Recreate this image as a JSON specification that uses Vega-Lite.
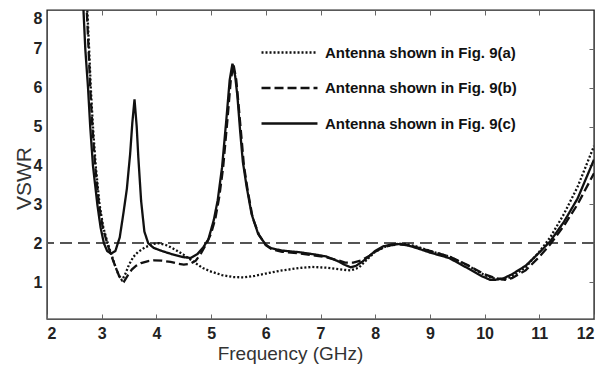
{
  "$schema": "https://vega.github.io/schema/vega-lite/v6.json",
  "width": 547,
  "height": 309,
  "autosize": "none",
  "padding": {"left": 47, "top": 10, "right": 14, "bottom": 51},
  "config": {
    "view": {"stroke": "#222", "strokeWidth": 1.4},
    "font": "Liberation Sans",
    "axis": {"grid": false, "domain": false, "labelFont": "Liberation Sans", "labelFontWeight": "bold", "labelFontSize": 16, "labelColor": "#222", "tickColor": "#666", "tickWidth": 1, "titleFont": "Liberation Sans", "titleFontWeight": "normal", "titleColor": "#333"}
  },
  "data": {"values": [
    {"f": 2.71, "v": 8.6, "s": "Antenna shown in Fig. 9(a)"},
    {"f": 2.74, "v": 7.9, "s": "Antenna shown in Fig. 9(a)"},
    {"f": 2.77, "v": 7.0, "s": "Antenna shown in Fig. 9(a)"},
    {"f": 2.80, "v": 6.0, "s": "Antenna shown in Fig. 9(a)"},
    {"f": 2.84, "v": 5.0, "s": "Antenna shown in Fig. 9(a)"},
    {"f": 2.89, "v": 4.0, "s": "Antenna shown in Fig. 9(a)"},
    {"f": 2.96, "v": 3.0, "s": "Antenna shown in Fig. 9(a)"},
    {"f": 3.03, "v": 2.4, "s": "Antenna shown in Fig. 9(a)"},
    {"f": 3.11, "v": 2.0, "s": "Antenna shown in Fig. 9(a)"},
    {"f": 3.18, "v": 1.7, "s": "Antenna shown in Fig. 9(a)"},
    {"f": 3.25, "v": 1.4, "s": "Antenna shown in Fig. 9(a)"},
    {"f": 3.31, "v": 1.18, "s": "Antenna shown in Fig. 9(a)"},
    {"f": 3.37, "v": 1.05, "s": "Antenna shown in Fig. 9(a)"},
    {"f": 3.43, "v": 1.2, "s": "Antenna shown in Fig. 9(a)"},
    {"f": 3.50, "v": 1.45, "s": "Antenna shown in Fig. 9(a)"},
    {"f": 3.58, "v": 1.65, "s": "Antenna shown in Fig. 9(a)"},
    {"f": 3.66, "v": 1.77, "s": "Antenna shown in Fig. 9(a)"},
    {"f": 3.80, "v": 1.9, "s": "Antenna shown in Fig. 9(a)"},
    {"f": 3.95, "v": 1.98, "s": "Antenna shown in Fig. 9(a)"},
    {"f": 4.05, "v": 2.0, "s": "Antenna shown in Fig. 9(a)"},
    {"f": 4.2, "v": 1.94, "s": "Antenna shown in Fig. 9(a)"},
    {"f": 4.35, "v": 1.83, "s": "Antenna shown in Fig. 9(a)"},
    {"f": 4.5, "v": 1.7, "s": "Antenna shown in Fig. 9(a)"},
    {"f": 4.7, "v": 1.5, "s": "Antenna shown in Fig. 9(a)"},
    {"f": 4.85, "v": 1.36, "s": "Antenna shown in Fig. 9(a)"},
    {"f": 5.0, "v": 1.27, "s": "Antenna shown in Fig. 9(a)"},
    {"f": 5.2, "v": 1.18, "s": "Antenna shown in Fig. 9(a)"},
    {"f": 5.4, "v": 1.13, "s": "Antenna shown in Fig. 9(a)"},
    {"f": 5.6, "v": 1.12, "s": "Antenna shown in Fig. 9(a)"},
    {"f": 5.8, "v": 1.16, "s": "Antenna shown in Fig. 9(a)"},
    {"f": 6.0, "v": 1.22, "s": "Antenna shown in Fig. 9(a)"},
    {"f": 6.3, "v": 1.3, "s": "Antenna shown in Fig. 9(a)"},
    {"f": 6.6, "v": 1.36, "s": "Antenna shown in Fig. 9(a)"},
    {"f": 6.85, "v": 1.39, "s": "Antenna shown in Fig. 9(a)"},
    {"f": 7.1, "v": 1.37, "s": "Antenna shown in Fig. 9(a)"},
    {"f": 7.4, "v": 1.32, "s": "Antenna shown in Fig. 9(a)"},
    {"f": 7.55, "v": 1.3, "s": "Antenna shown in Fig. 9(a)"},
    {"f": 7.7, "v": 1.37, "s": "Antenna shown in Fig. 9(a)"},
    {"f": 7.85, "v": 1.58, "s": "Antenna shown in Fig. 9(a)"},
    {"f": 8.0, "v": 1.78, "s": "Antenna shown in Fig. 9(a)"},
    {"f": 8.2, "v": 1.92, "s": "Antenna shown in Fig. 9(a)"},
    {"f": 8.4, "v": 1.98, "s": "Antenna shown in Fig. 9(a)"},
    {"f": 8.55, "v": 1.98, "s": "Antenna shown in Fig. 9(a)"},
    {"f": 8.75, "v": 1.92, "s": "Antenna shown in Fig. 9(a)"},
    {"f": 9.0, "v": 1.8, "s": "Antenna shown in Fig. 9(a)"},
    {"f": 9.35, "v": 1.66, "s": "Antenna shown in Fig. 9(a)"},
    {"f": 9.7, "v": 1.42, "s": "Antenna shown in Fig. 9(a)"},
    {"f": 10.0, "v": 1.18, "s": "Antenna shown in Fig. 9(a)"},
    {"f": 10.2, "v": 1.08, "s": "Antenna shown in Fig. 9(a)"},
    {"f": 10.35, "v": 1.07, "s": "Antenna shown in Fig. 9(a)"},
    {"f": 10.5, "v": 1.14, "s": "Antenna shown in Fig. 9(a)"},
    {"f": 10.75, "v": 1.38, "s": "Antenna shown in Fig. 9(a)"},
    {"f": 11.0, "v": 1.78, "s": "Antenna shown in Fig. 9(a)"},
    {"f": 11.2, "v": 2.15, "s": "Antenna shown in Fig. 9(a)"},
    {"f": 11.45, "v": 2.75, "s": "Antenna shown in Fig. 9(a)"},
    {"f": 11.7, "v": 3.45, "s": "Antenna shown in Fig. 9(a)"},
    {"f": 12.0, "v": 4.5, "s": "Antenna shown in Fig. 9(a)"},

    {"f": 2.70, "v": 8.6, "s": "Antenna shown in Fig. 9(b)"},
    {"f": 2.73, "v": 7.9, "s": "Antenna shown in Fig. 9(b)"},
    {"f": 2.76, "v": 7.0, "s": "Antenna shown in Fig. 9(b)"},
    {"f": 2.79, "v": 6.0, "s": "Antenna shown in Fig. 9(b)"},
    {"f": 2.83, "v": 5.0, "s": "Antenna shown in Fig. 9(b)"},
    {"f": 2.88, "v": 4.0, "s": "Antenna shown in Fig. 9(b)"},
    {"f": 2.95, "v": 3.0, "s": "Antenna shown in Fig. 9(b)"},
    {"f": 3.02, "v": 2.4, "s": "Antenna shown in Fig. 9(b)"},
    {"f": 3.10, "v": 2.0, "s": "Antenna shown in Fig. 9(b)"},
    {"f": 3.17, "v": 1.7, "s": "Antenna shown in Fig. 9(b)"},
    {"f": 3.25, "v": 1.4, "s": "Antenna shown in Fig. 9(b)"},
    {"f": 3.32, "v": 1.15, "s": "Antenna shown in Fig. 9(b)"},
    {"f": 3.41, "v": 1.02, "s": "Antenna shown in Fig. 9(b)"},
    {"f": 3.48, "v": 1.18, "s": "Antenna shown in Fig. 9(b)"},
    {"f": 3.55, "v": 1.32, "s": "Antenna shown in Fig. 9(b)"},
    {"f": 3.63, "v": 1.42, "s": "Antenna shown in Fig. 9(b)"},
    {"f": 3.72, "v": 1.49, "s": "Antenna shown in Fig. 9(b)"},
    {"f": 3.85, "v": 1.54, "s": "Antenna shown in Fig. 9(b)"},
    {"f": 3.96, "v": 1.56, "s": "Antenna shown in Fig. 9(b)"},
    {"f": 4.1, "v": 1.55, "s": "Antenna shown in Fig. 9(b)"},
    {"f": 4.26, "v": 1.52, "s": "Antenna shown in Fig. 9(b)"},
    {"f": 4.4, "v": 1.47, "s": "Antenna shown in Fig. 9(b)"},
    {"f": 4.5, "v": 1.45, "s": "Antenna shown in Fig. 9(b)"},
    {"f": 4.62, "v": 1.47, "s": "Antenna shown in Fig. 9(b)"},
    {"f": 4.72, "v": 1.55, "s": "Antenna shown in Fig. 9(b)"},
    {"f": 4.82, "v": 1.75, "s": "Antenna shown in Fig. 9(b)"},
    {"f": 4.92, "v": 2.0, "s": "Antenna shown in Fig. 9(b)"},
    {"f": 5.0, "v": 2.25, "s": "Antenna shown in Fig. 9(b)"},
    {"f": 5.08, "v": 2.65, "s": "Antenna shown in Fig. 9(b)"},
    {"f": 5.15, "v": 3.2, "s": "Antenna shown in Fig. 9(b)"},
    {"f": 5.22, "v": 3.95, "s": "Antenna shown in Fig. 9(b)"},
    {"f": 5.30, "v": 5.2, "s": "Antenna shown in Fig. 9(b)"},
    {"f": 5.36, "v": 6.2, "s": "Antenna shown in Fig. 9(b)"},
    {"f": 5.41, "v": 6.6, "s": "Antenna shown in Fig. 9(b)"},
    {"f": 5.46, "v": 6.2, "s": "Antenna shown in Fig. 9(b)"},
    {"f": 5.50, "v": 5.6, "s": "Antenna shown in Fig. 9(b)"},
    {"f": 5.55, "v": 4.8, "s": "Antenna shown in Fig. 9(b)"},
    {"f": 5.60, "v": 4.0, "s": "Antenna shown in Fig. 9(b)"},
    {"f": 5.67, "v": 3.35, "s": "Antenna shown in Fig. 9(b)"},
    {"f": 5.76, "v": 2.65, "s": "Antenna shown in Fig. 9(b)"},
    {"f": 5.88, "v": 2.2, "s": "Antenna shown in Fig. 9(b)"},
    {"f": 6.0, "v": 1.95, "s": "Antenna shown in Fig. 9(b)"},
    {"f": 6.1, "v": 1.85, "s": "Antenna shown in Fig. 9(b)"},
    {"f": 6.3, "v": 1.78, "s": "Antenna shown in Fig. 9(b)"},
    {"f": 6.6, "v": 1.74, "s": "Antenna shown in Fig. 9(b)"},
    {"f": 6.9, "v": 1.68, "s": "Antenna shown in Fig. 9(b)"},
    {"f": 7.1, "v": 1.64, "s": "Antenna shown in Fig. 9(b)"},
    {"f": 7.3, "v": 1.57, "s": "Antenna shown in Fig. 9(b)"},
    {"f": 7.45, "v": 1.5, "s": "Antenna shown in Fig. 9(b)"},
    {"f": 7.6, "v": 1.5, "s": "Antenna shown in Fig. 9(b)"},
    {"f": 7.75, "v": 1.56, "s": "Antenna shown in Fig. 9(b)"},
    {"f": 7.9, "v": 1.68, "s": "Antenna shown in Fig. 9(b)"},
    {"f": 8.0, "v": 1.78, "s": "Antenna shown in Fig. 9(b)"},
    {"f": 8.15, "v": 1.9, "s": "Antenna shown in Fig. 9(b)"},
    {"f": 8.3, "v": 1.95, "s": "Antenna shown in Fig. 9(b)"},
    {"f": 8.45, "v": 1.97, "s": "Antenna shown in Fig. 9(b)"},
    {"f": 8.6, "v": 1.95, "s": "Antenna shown in Fig. 9(b)"},
    {"f": 8.75, "v": 1.9, "s": "Antenna shown in Fig. 9(b)"},
    {"f": 9.0, "v": 1.8, "s": "Antenna shown in Fig. 9(b)"},
    {"f": 9.35, "v": 1.66, "s": "Antenna shown in Fig. 9(b)"},
    {"f": 9.7, "v": 1.43, "s": "Antenna shown in Fig. 9(b)"},
    {"f": 10.0, "v": 1.2, "s": "Antenna shown in Fig. 9(b)"},
    {"f": 10.2, "v": 1.1, "s": "Antenna shown in Fig. 9(b)"},
    {"f": 10.37, "v": 1.06, "s": "Antenna shown in Fig. 9(b)"},
    {"f": 10.5, "v": 1.1, "s": "Antenna shown in Fig. 9(b)"},
    {"f": 10.75, "v": 1.3, "s": "Antenna shown in Fig. 9(b)"},
    {"f": 11.0, "v": 1.65, "s": "Antenna shown in Fig. 9(b)"},
    {"f": 11.2, "v": 1.97, "s": "Antenna shown in Fig. 9(b)"},
    {"f": 11.45, "v": 2.45, "s": "Antenna shown in Fig. 9(b)"},
    {"f": 11.7, "v": 3.0, "s": "Antenna shown in Fig. 9(b)"},
    {"f": 12.0, "v": 3.8, "s": "Antenna shown in Fig. 9(b)"},

    {"f": 2.65, "v": 8.6, "s": "Antenna shown in Fig. 9(c)"},
    {"f": 2.67, "v": 7.9, "s": "Antenna shown in Fig. 9(c)"},
    {"f": 2.70, "v": 7.0, "s": "Antenna shown in Fig. 9(c)"},
    {"f": 2.75, "v": 6.0, "s": "Antenna shown in Fig. 9(c)"},
    {"f": 2.79, "v": 5.0, "s": "Antenna shown in Fig. 9(c)"},
    {"f": 2.84, "v": 4.0, "s": "Antenna shown in Fig. 9(c)"},
    {"f": 2.92, "v": 3.0, "s": "Antenna shown in Fig. 9(c)"},
    {"f": 2.98, "v": 2.4, "s": "Antenna shown in Fig. 9(c)"},
    {"f": 3.04, "v": 2.0, "s": "Antenna shown in Fig. 9(c)"},
    {"f": 3.10, "v": 1.8, "s": "Antenna shown in Fig. 9(c)"},
    {"f": 3.17, "v": 1.73, "s": "Antenna shown in Fig. 9(c)"},
    {"f": 3.25, "v": 1.8, "s": "Antenna shown in Fig. 9(c)"},
    {"f": 3.33, "v": 2.15, "s": "Antenna shown in Fig. 9(c)"},
    {"f": 3.40, "v": 2.8, "s": "Antenna shown in Fig. 9(c)"},
    {"f": 3.46, "v": 3.4, "s": "Antenna shown in Fig. 9(c)"},
    {"f": 3.52, "v": 4.3, "s": "Antenna shown in Fig. 9(c)"},
    {"f": 3.56, "v": 5.1, "s": "Antenna shown in Fig. 9(c)"},
    {"f": 3.60, "v": 5.7, "s": "Antenna shown in Fig. 9(c)"},
    {"f": 3.64, "v": 5.0, "s": "Antenna shown in Fig. 9(c)"},
    {"f": 3.67, "v": 4.2, "s": "Antenna shown in Fig. 9(c)"},
    {"f": 3.72, "v": 3.1, "s": "Antenna shown in Fig. 9(c)"},
    {"f": 3.78, "v": 2.3, "s": "Antenna shown in Fig. 9(c)"},
    {"f": 3.85, "v": 2.0, "s": "Antenna shown in Fig. 9(c)"},
    {"f": 3.95, "v": 1.88, "s": "Antenna shown in Fig. 9(c)"},
    {"f": 4.10, "v": 1.8, "s": "Antenna shown in Fig. 9(c)"},
    {"f": 4.30, "v": 1.71, "s": "Antenna shown in Fig. 9(c)"},
    {"f": 4.50, "v": 1.64, "s": "Antenna shown in Fig. 9(c)"},
    {"f": 4.63, "v": 1.62, "s": "Antenna shown in Fig. 9(c)"},
    {"f": 4.75, "v": 1.72, "s": "Antenna shown in Fig. 9(c)"},
    {"f": 4.85, "v": 1.88, "s": "Antenna shown in Fig. 9(c)"},
    {"f": 4.95, "v": 2.1, "s": "Antenna shown in Fig. 9(c)"},
    {"f": 5.05, "v": 2.6, "s": "Antenna shown in Fig. 9(c)"},
    {"f": 5.12, "v": 3.1, "s": "Antenna shown in Fig. 9(c)"},
    {"f": 5.20, "v": 3.95, "s": "Antenna shown in Fig. 9(c)"},
    {"f": 5.28, "v": 5.2, "s": "Antenna shown in Fig. 9(c)"},
    {"f": 5.34, "v": 6.2, "s": "Antenna shown in Fig. 9(c)"},
    {"f": 5.39, "v": 6.62, "s": "Antenna shown in Fig. 9(c)"},
    {"f": 5.44, "v": 6.3, "s": "Antenna shown in Fig. 9(c)"},
    {"f": 5.48, "v": 5.8, "s": "Antenna shown in Fig. 9(c)"},
    {"f": 5.53, "v": 4.9, "s": "Antenna shown in Fig. 9(c)"},
    {"f": 5.58, "v": 4.1, "s": "Antenna shown in Fig. 9(c)"},
    {"f": 5.65, "v": 3.45, "s": "Antenna shown in Fig. 9(c)"},
    {"f": 5.74, "v": 2.75, "s": "Antenna shown in Fig. 9(c)"},
    {"f": 5.86, "v": 2.24, "s": "Antenna shown in Fig. 9(c)"},
    {"f": 6.0, "v": 1.96, "s": "Antenna shown in Fig. 9(c)"},
    {"f": 6.1, "v": 1.87, "s": "Antenna shown in Fig. 9(c)"},
    {"f": 6.3, "v": 1.81, "s": "Antenna shown in Fig. 9(c)"},
    {"f": 6.6, "v": 1.77, "s": "Antenna shown in Fig. 9(c)"},
    {"f": 6.9, "v": 1.71, "s": "Antenna shown in Fig. 9(c)"},
    {"f": 7.1, "v": 1.66, "s": "Antenna shown in Fig. 9(c)"},
    {"f": 7.3, "v": 1.55, "s": "Antenna shown in Fig. 9(c)"},
    {"f": 7.45, "v": 1.44, "s": "Antenna shown in Fig. 9(c)"},
    {"f": 7.55, "v": 1.38, "s": "Antenna shown in Fig. 9(c)"},
    {"f": 7.65, "v": 1.42, "s": "Antenna shown in Fig. 9(c)"},
    {"f": 7.77, "v": 1.53, "s": "Antenna shown in Fig. 9(c)"},
    {"f": 7.9, "v": 1.68, "s": "Antenna shown in Fig. 9(c)"},
    {"f": 8.0, "v": 1.8, "s": "Antenna shown in Fig. 9(c)"},
    {"f": 8.15, "v": 1.92, "s": "Antenna shown in Fig. 9(c)"},
    {"f": 8.3, "v": 1.97, "s": "Antenna shown in Fig. 9(c)"},
    {"f": 8.45, "v": 1.98, "s": "Antenna shown in Fig. 9(c)"},
    {"f": 8.6, "v": 1.94, "s": "Antenna shown in Fig. 9(c)"},
    {"f": 8.75, "v": 1.88, "s": "Antenna shown in Fig. 9(c)"},
    {"f": 9.0, "v": 1.76, "s": "Antenna shown in Fig. 9(c)"},
    {"f": 9.35, "v": 1.62, "s": "Antenna shown in Fig. 9(c)"},
    {"f": 9.7, "v": 1.35, "s": "Antenna shown in Fig. 9(c)"},
    {"f": 9.95, "v": 1.15, "s": "Antenna shown in Fig. 9(c)"},
    {"f": 10.1, "v": 1.06, "s": "Antenna shown in Fig. 9(c)"},
    {"f": 10.2, "v": 1.06, "s": "Antenna shown in Fig. 9(c)"},
    {"f": 10.35, "v": 1.1, "s": "Antenna shown in Fig. 9(c)"},
    {"f": 10.5, "v": 1.2, "s": "Antenna shown in Fig. 9(c)"},
    {"f": 10.75, "v": 1.42, "s": "Antenna shown in Fig. 9(c)"},
    {"f": 11.0, "v": 1.76, "s": "Antenna shown in Fig. 9(c)"},
    {"f": 11.2, "v": 2.05, "s": "Antenna shown in Fig. 9(c)"},
    {"f": 11.45, "v": 2.55, "s": "Antenna shown in Fig. 9(c)"},
    {"f": 11.7, "v": 3.15, "s": "Antenna shown in Fig. 9(c)"},
    {"f": 12.0, "v": 4.15, "s": "Antenna shown in Fig. 9(c)"}
  ]},
  "layer": [
    {
      "mark": {"type": "rule", "color": "#555", "strokeDash": [12, 6], "strokeWidth": 1.6},
      "encoding": {"y": {"datum": 2, "type": "quantitative", "axis": null}}
    },
    {
      "mark": {"type": "line", "clip": true, "color": "#111", "strokeWidth": 2.3},
      "encoding": {
        "x": {"field": "f", "type": "quantitative", "scale": {"domain": [2, 12], "nice": false, "zero": false},
              "axis": {"values": [2,3,4,5,6,7,8,9,10,11,12], "labelFlush": true, "tickSize": -5, "labelPadding": 11, "title": "Frequency (GHz)", "titleFontSize": 19, "titleX": 243, "titleY": 25, "titleBaseline": "top"}},
        "y": {"field": "v", "type": "quantitative", "scale": {"domain": [0.05, 8], "nice": false, "zero": false},
              "axis": {"values": [1,2,3,4,5,6,7,8], "labelFlush": true, "ticks": false, "labelPadding": 5, "title": "VSWR", "titleFontSize": 21, "titleX": -13, "titleY": 168}},
        "strokeDash": {"field": "s", "type": "nominal",
          "scale": {"domain": ["Antenna shown in Fig. 9(a)", "Antenna shown in Fig. 9(b)", "Antenna shown in Fig. 9(c)"], "range": [[2, 2], [9, 4], [1, 0]]},
          "legend": {"orient": "none", "legendX": 232, "legendY": 32, "title": null, "symbolType": "M-3,0L3,0", "symbolSize": 348, "symbolStrokeWidth": 2.3, "symbolStrokeColor": "#111", "labelFontSize": 15, "labelFontWeight": "bold", "labelColor": "#111", "labelLimit": 0, "rowPadding": 16.5, "labelOffset": 25, "padding": 0}
        }
      }
    },
    {
      "mark": {"type": "line", "opacity": 0},
      "encoding": {
        "x": {"field": "f", "type": "quantitative", "axis": {"orient": "top", "values": [3,4,5,6,7,8,9,10,11], "labels": false, "tickSize": -5, "title": null}},
        "y": {"field": "v", "type": "quantitative", "axis": {"orient": "right", "values": [1,2,3,4,5,6,7], "labels": false, "tickSize": -5, "title": null}},
        "detail": {"field": "s"}
      }
    }
  ],
  "resolve": {"axis": {"x": "independent", "y": "independent"}}
}
